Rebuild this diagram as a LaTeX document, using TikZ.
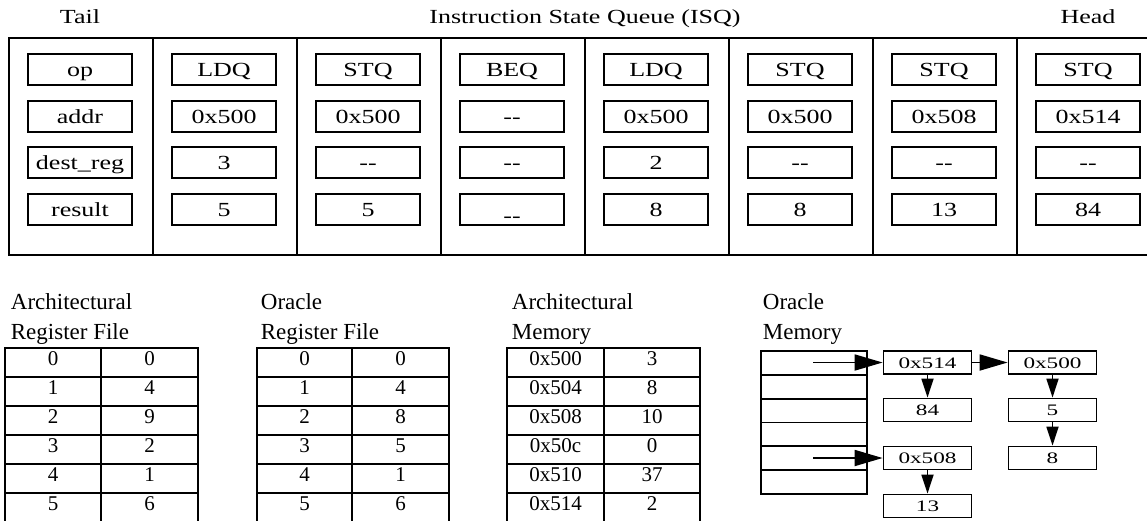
\documentclass[tikz,border=0pt]{standalone}
\usepackage{fontspec}
\setmainfont{Liberation Serif}
\newfontfamily\widefont[FakeStretch=1.3]{Liberation Serif}
\newfontfamily\widerfont[FakeStretch=1.45]{Liberation Serif}
\usetikzlibrary{arrows.meta}

% two hyphens, kept apart (no en dash)
\newcommand{\nix}{-{}-}

\begin{document}
\begin{tikzpicture}[x=1pt,y=-1pt,line width=1.8pt,
  head/.style={anchor=base,inner sep=0pt,font=\widefont\fontsize{20}{24}\selectfont},
  isqbox/.style={draw,minimum width=104pt,minimum height=31pt,inner sep=0pt,
    text height=14pt,text depth=0pt,font=\widefont\fontsize{20}{24}\selectfont},
  title/.style={anchor=north west,align=left,inner sep=0pt,font=\fontsize{23}{30}\selectfont},
  cell/.style={anchor=base,inner sep=0pt,font=\fontsize{21}{25}\selectfont},
  memnode/.style={draw,minimum width=88pt,minimum height=23pt,inner sep=0pt,
    text height=11pt,text depth=0pt,font=\widerfont\fontsize{16}{20}\selectfont},
  bigtip/.style={-{Triangle[length=28pt,width=16pt]}},
  smalltip/.style={-{Triangle[length=19pt,width=12pt]}}]

\useasboundingbox (0,0) rectangle (1147,520);
\clip (0,0) rectangle (1147,520);

% instruction state queue
\node[head] (tail) at (80,23) {Tail};
\node[head] (isq) at (585,23) {Instruction State Queue (ISQ)};
\node[head] (head) at (1088,23) {Head};

\draw (1175,38) -- (9,38) -- (9,255) -- (1175,255);
\foreach \i in {1,...,7}
  \draw (9+144*\i,38) -- (9+144*\i,255);

\foreach \op/\addr/\dest/\res [count=\i from 0] in {op/addr/dest\_reg/result,
    LDQ/0x500/3/5, STQ/0x500/\nix/5, BEQ/\nix/\nix/{\raisebox{-6pt}{\nix}},
    LDQ/0x500/2/8, STQ/0x500/\nix/8, STQ/0x508/\nix/13, STQ/0x514/\nix/84} {
  \node[isqbox] (op\i) at (80+144*\i,69.5) {\op};
  \node[isqbox] (addr\i) at (80+144*\i,116.5) {\addr};
  \node[isqbox] (dest\i) at (80+144*\i,162.5) {\dest};
  \node[isqbox] (res\i) at (80+144*\i,209.5) {\res};
}

% architectural register file
\node[title] (archrf) at (10,293) {Architectural\\Register File};
\draw (5,523) -- (5,348) -- (198,348) -- (198,523);
\draw (101,348) -- (101,523);
\foreach \v [count=\r from 0] in {0,4,9,2,1,6} {
  \draw (5,377+29*\r) -- (198,377+29*\r);
  \node[cell] (arfreg\r) at (53,365+29*\r) {\r};
  \node[cell] (arfval\r) at (149.5,365+29*\r) {\v};
}

% oracle register file
\node[title] (orarf) at (260,293) {Oracle\\Register File};
\draw (257,523) -- (257,348) -- (449,348) -- (449,523);
\draw (352,348) -- (352,523);
\foreach \v [count=\r from 0] in {0,4,8,5,1,6} {
  \draw (257,377+29*\r) -- (449,377+29*\r);
  \node[cell] (orfreg\r) at (304.5,365+29*\r) {\r};
  \node[cell] (orfval\r) at (400.5,365+29*\r) {\v};
}

% architectural memory
\node[title] (archmem) at (511,293) {Architectural\\Memory};
\draw (507,523) -- (507,348) -- (700,348) -- (700,523);
\draw (604,348) -- (604,523);
\foreach \a/\v [count=\r from 0] in {0x500/3,0x504/8,0x508/10,0x50c/0,0x510/37,0x514/2} {
  \draw (507,377+29*\r) -- (700,377+29*\r);
  \node[cell] (amaddr\r) at (555.5,365+29*\r) {\a};
  \node[cell] (amval\r) at (652,365+29*\r) {\v};
}

% oracle memory: hash table with chained versions
\node[title] (oramem) at (762,293) {Oracle\\Memory};
\draw (761,351) rectangle (867,494);
\foreach \k in {1,...,5}
  \draw (761,351+23.83*\k) -- (867,351+23.83*\k);

\node[memnode] (m514) at (927.5,362.5) {0x514};
\node[memnode] (m500) at (1052.5,362.5) {0x500};
\node[memnode] (v84) at (927.5,410) {84};
\node[memnode] (v5) at (1052.5,410) {5};
\node[memnode] (v8) at (1052.5,458) {8};
\node[memnode] (m508) at (927.5,458) {0x508};
\node[memnode] (v13) at (927.5,506) {13};

\coordinate (slot0) at (813,362.5);
\coordinate (slot4) at (813,458);

\draw[bigtip] (slot0) -- (m514);
\draw[bigtip] (slot4) -- (m508);
\draw[bigtip] (m514) -- (m500);
\draw[smalltip] (m514) -- (v84);
\draw[smalltip] (m500) -- (v5);
\draw[smalltip] (v5) -- (v8);
\draw[smalltip] (m508) -- (v13);

\end{tikzpicture}
\end{document}
